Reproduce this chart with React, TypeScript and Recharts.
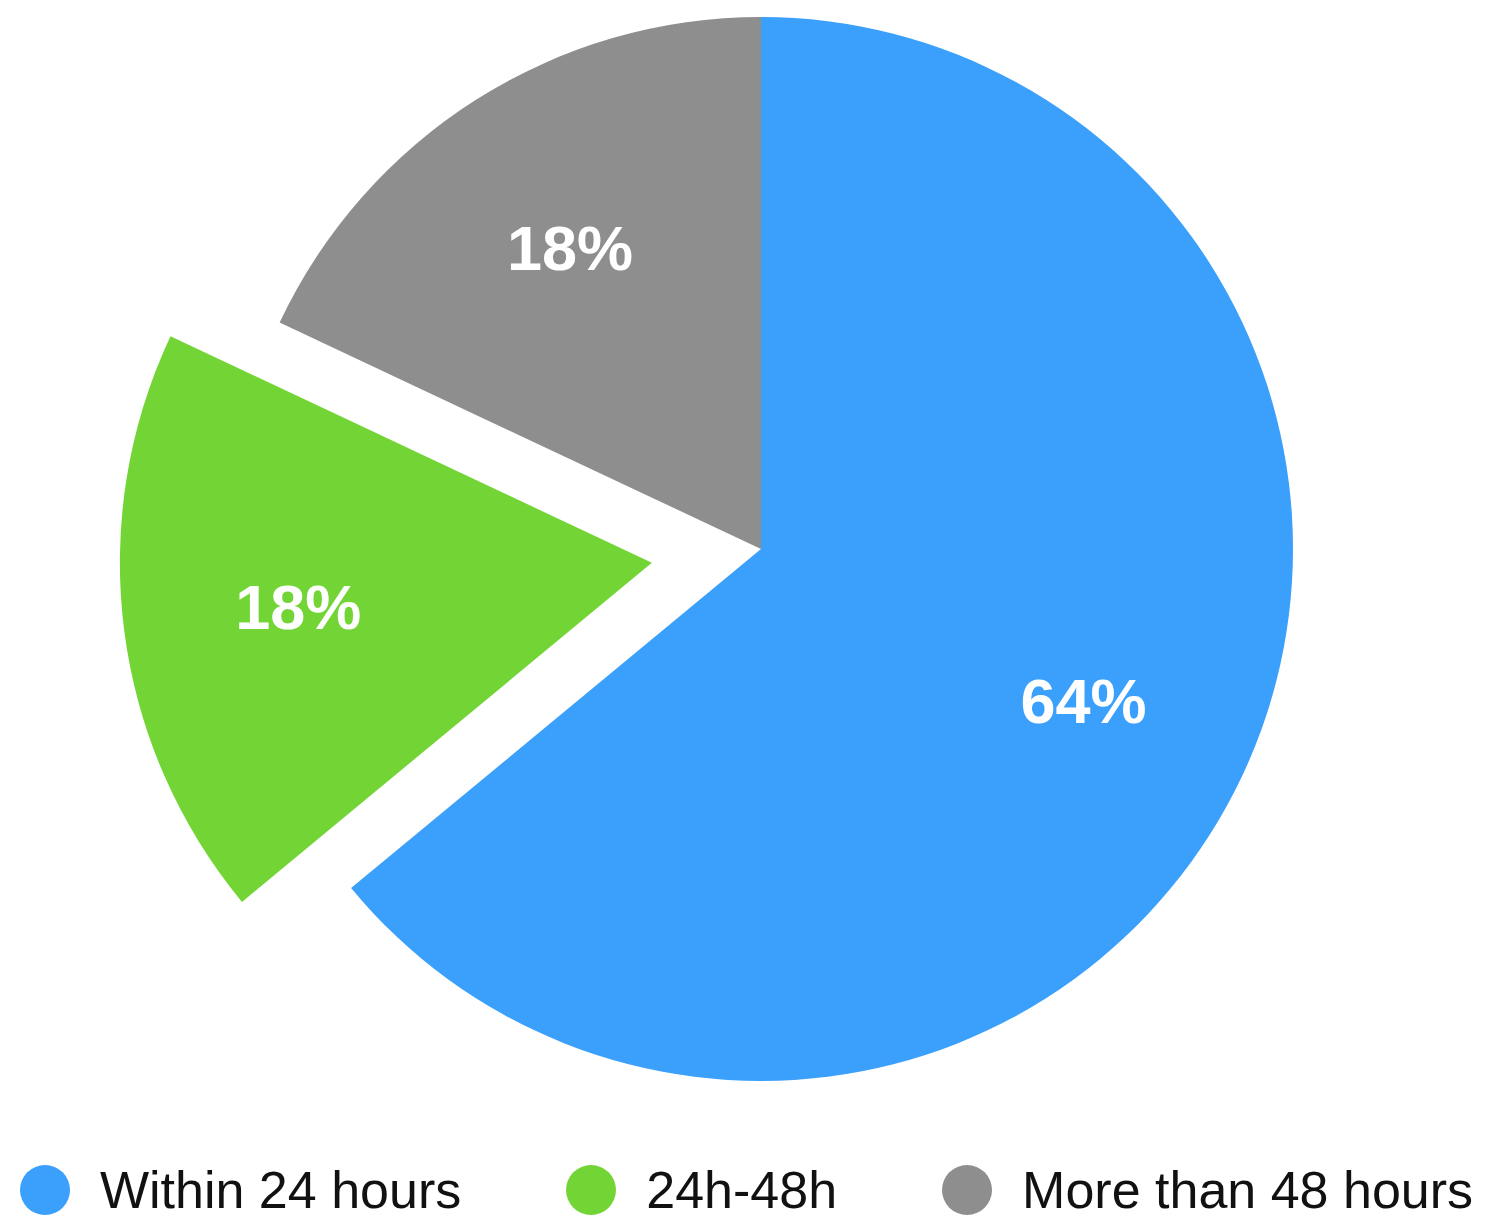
import React from "react";
import { PieChart, Pie, Cell, Legend } from "recharts";

const categories = ["Within 24 hours", "24h-48h", "More than 48 hours"];
const values = [64, 18, 18];
const colors = ["#3BA0FC", "#72D535", "#8E8E8E"];
const explodedIndex = 1;

const data = categories.map((name, i) => ({ name, value: values[i] }));

const W = 1493;
const H = 1228;
const CX = 761;
const CY = 549;
const R = 532;
const EXPLODE = 110;
const START = 90;
const END = -270;

// mid angle of exploded slice computed from data
const total = values.reduce((a, b) => a + b, 0);
const before = values.slice(0, explodedIndex).reduce((a, b) => a + b, 0);
const midDeg = START - ((before + values[explodedIndex] / 2) / total) * 360;
const midRad = (midDeg * Math.PI) / 180;
const ECX = CX + EXPLODE * Math.cos(midRad);
const ECY = CY - EXPLODE * Math.sin(midRad);

const RAD = Math.PI / 180;

const makeLabel = (visible: (i: number) => boolean) => (props: any) => {
  const { cx, cy, midAngle, outerRadius, index, value } = props;
  if (!visible(index)) return null;
  const r = outerRadius * 0.67;
  const x = cx + r * Math.cos(-midAngle * RAD);
  const y = cy + r * Math.sin(-midAngle * RAD);
  return (
    <text
      x={x}
      y={y}
      fill="#ffffff"
      textAnchor="middle"
      dominantBaseline="central"
      fontFamily="'Liberation Sans', Arial, sans-serif"
      fontWeight="bold"
      fontSize={63}
    >
      {`${value}%`}
    </text>
  );
};

const LegendContent = () => (
  <div
    style={{
      display: "flex",
      justifyContent: "center",
      alignItems: "center",
      gap: 105,
      fontFamily: "'Liberation Sans', Arial, sans-serif",
      fontSize: 52,
      color: "#111111",
    }}
  >
    {categories.map((c, i) => (
      <div key={c} style={{ display: "flex", alignItems: "center" }}>
        <span
          style={{
            display: "inline-block",
            width: 50,
            height: 50,
            borderRadius: "50%",
            background: colors[i],
            marginRight: 30,
          }}
        />
        <span>{c}</span>
      </div>
    ))}
  </div>
);

export default function App() {
  return (
    <div style={{ margin: -8, width: W, height: H, background: "#fff" }}>
      <PieChart width={W} height={H} margin={{ top: 0, right: 0, bottom: 0, left: 0 }}>
        <Pie
          data={data}
          dataKey="value"
          nameKey="name"
          cx={CX}
          cy={CY}
          outerRadius={R}
          startAngle={START}
          endAngle={END}
          stroke="none"
          labelLine={false}
          label={makeLabel((i) => i !== explodedIndex)}
          isAnimationActive={false}
        >
          {data.map((d, i) => (
            <Cell key={d.name} fill={i === explodedIndex ? "none" : colors[i]} />
          ))}
        </Pie>
        <Pie
          data={data}
          dataKey="value"
          nameKey="name"
          cx={ECX}
          cy={ECY}
          outerRadius={R}
          startAngle={START}
          endAngle={END}
          stroke="none"
          labelLine={false}
          label={makeLabel((i) => i === explodedIndex)}
          isAnimationActive={false}
        >
          {data.map((d, i) => (
            <Cell key={d.name} fill={i === explodedIndex ? colors[i] : "none"} />
          ))}
        </Pie>
        <Legend
          content={LegendContent}
          wrapperStyle={{ position: "absolute", top: 1160, left: 0, width: W }}
        />
      </PieChart>
    </div>
  );
}
